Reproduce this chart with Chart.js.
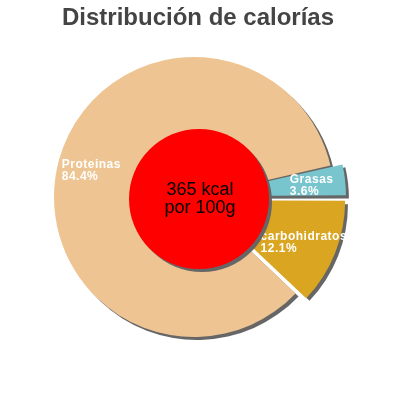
<!DOCTYPE html>
<html>
<head>
<meta charset="utf-8">
<script src="https://cdn.jsdelivr.net/npm/chart.js@4.4.0/dist/chart.umd.min.js"></script>
<style>
  html, body { margin:0; padding:0; background:#fff; }
  #wrap { width:400px; height:400px; }
</style>
</head>
<body>
<div id="wrap"><canvas id="c" width="400" height="400"></canvas></div>
<script>
// values
const labels  = ['Grasas', 'carbohidratos', 'Proteinas'];
const percent = [3.6, 12.1, 84.4];
const colors  = ['#78c5cd', '#daa520', '#eec592'];
const explode = [27, 36, 0];
const title   = 'Distribución de calorías';
const center  = ['365 kcal', 'por 100g'];

const FONT = '"Liberation Sans", Arial, sans-serif';
const SHADOW = '#666';

// same outward shift Chart.js applies to an offset arc
function shiftOf(el) {
  const off = (el.options.offset || 0) / 4;
  const circ = el.endAngle - el.startAngle;
  const fix = 1 - Math.sin(Math.min(Math.PI, circ || 0));
  return off + off * fix;
}

// grey drop shadow under every slice, painted before the slices themselves
const shadowPlugin = {
  id: 'shadow',
  beforeDatasetsDraw(chart) {
    const ctx = chart.ctx;
    chart.getDatasetMeta(0).data.forEach(el => {
      const {x, y, startAngle, endAngle, outerRadius} = el;
      const s = shiftOf(el);
      const mid = (startAngle + endAngle) / 2;
      const cx = x + Math.cos(mid) * s + 3, cy = y + Math.sin(mid) * s + 3;
      ctx.save();
      ctx.fillStyle = SHADOW;
      ctx.beginPath();
      ctx.moveTo(cx, cy);
      ctx.arc(cx, cy, outerRadius, startAngle, endAngle);
      ctx.closePath();
      ctx.fill();
      ctx.restore();
    });
  }
};

// slice labels, red centre disc and title
const decoPlugin = {
  id: 'deco',
  afterDatasetsDraw(chart) {
    const ctx = chart.ctx;
    const meta = chart.getDatasetMeta(0);
    const first = meta.data[0];
    const R = first.outerRadius;

    ctx.save();
    ctx.font = 'bold 12px ' + FONT;
    ctx.letterSpacing = '0.5px';
    ctx.fillStyle = '#fff';
    ctx.textAlign = 'left';
    ctx.textBaseline = 'alphabetic';
    meta.data.forEach((el, i) => {
      const mid = (el.startAngle + el.endAngle) / 2;
      const r = R * 0.76 + shiftOf(el);
      const px = el.x + Math.cos(mid) * r, py = el.y + Math.sin(mid) * r;
      const lines = [labels[i], percent[i].toFixed(1) + '%'];
      const w = Math.max(...lines.map(t => ctx.measureText(t).width));
      ctx.fillText(lines[0], px - w / 2, py - 1);
      ctx.fillText(lines[1], px - w / 2, py + 11);
    });
    ctx.restore();

    // centre disc
    const dx = first.x + 5, dy = first.y + 2, dr = R * 0.5;
    ctx.save();
    ctx.fillStyle = SHADOW;
    ctx.beginPath(); ctx.arc(dx + 3, dy + 3, dr, 0, Math.PI * 2); ctx.fill();
    ctx.fillStyle = '#ff0000';
    ctx.beginPath(); ctx.arc(dx, dy, dr, 0, Math.PI * 2); ctx.fill();
    ctx.fillStyle = '#000';
    ctx.font = '18px ' + FONT;
    ctx.textAlign = 'center';
    ctx.textBaseline = 'alphabetic';
    ctx.fillText(center[0], dx + 1, dy - 4);
    ctx.fillText(center[1], dx + 1, dy + 14);
    ctx.restore();

    ctx.save();
    ctx.fillStyle = '#444';
    ctx.font = 'bold 24px ' + FONT;
    ctx.textAlign = 'center';
    ctx.textBaseline = 'alphabetic';
    ctx.fillText(title, 198, 25);
    ctx.restore();
  }
};

new Chart(document.getElementById('c'), {
  type: 'pie',
  data: {
    labels: labels,
    datasets: [{
      data: percent,
      backgroundColor: colors,
      borderWidth: 0,
      offset: explode,
      hoverOffset: 0
    }]
  },
  options: {
    responsive: false,
    animation: false,
    rotation: 90 - percent[0] * 3.6,
    layout: { padding: { left: 36, right: 48, top: 39, bottom: 45 } },
    plugins: {
      legend: { display: false },
      tooltip: { enabled: false },
      title: { display: false }
    }
  },
  plugins: [shadowPlugin, decoPlugin]
});
</script>
</body>
</html>
